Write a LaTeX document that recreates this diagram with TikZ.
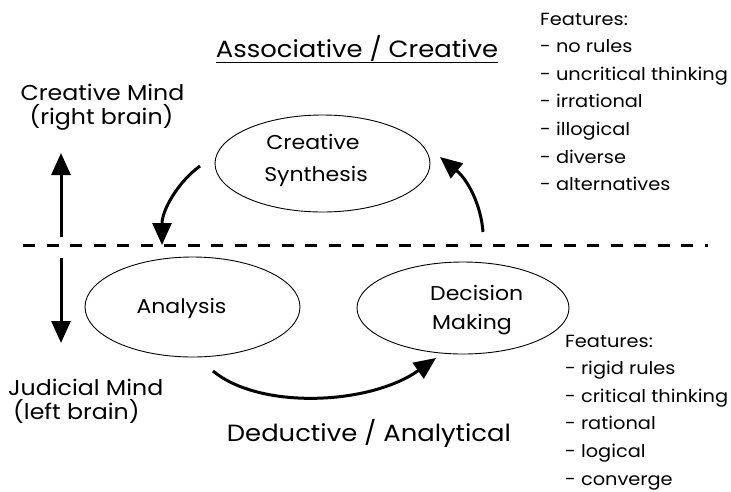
\documentclass[tikz,border=0pt]{standalone}
\usepackage{fontspec}
\setmainfont{Poppins}[FakeStretch=1.1]
\usetikzlibrary{arrows.meta,shapes.geometric}
\begin{document}
\begin{tikzpicture}[x=1pt,y=-1pt,
  oval/.style={ellipse, draw, line width=0.9pt, inner sep=0pt},
  arr/.style={line width=3pt, -{Triangle[length=22pt,width=19pt]}},
  intext/.style={inner sep=0pt, anchor=base, font=\fontsize{20}{24}\selectfont},
  lbl/.style={inner sep=0pt, anchor=base, font=\fontsize{21.5}{25}\selectfont},
  ttl/.style={inner sep=0pt, anchor=base, font=\fontsize{23.5}{27}\selectfont},
  feat/.style={inner sep=0pt, anchor=base west, font=\fontsize{17.6}{21}\selectfont}]
\useasboundingbox (0,0) rectangle (731,491);

% ellipses
\node[oval, minimum width=215pt, minimum height=97pt] (cs) at (322.5,163.5) {};
\node[oval, minimum width=215pt, minimum height=100pt] (an) at (192.5,307) {};
\node[oval, minimum width=212pt, minimum height=92pt] (dm) at (463,308) {};

% ellipse texts
\node[intext] (cst1) at (313,149) {Creative};
\node[intext] (cst2) at (316,181) {Synthesis};
\node[intext] (ant) at (181.5,313) {Analysis};
\node[intext, anchor=base west] (dmt1) at (430,300) {Decision};
\node[intext, anchor=base west] (dmt2) at (432,329) {Making};

% titles
\node[ttl] (top) at (357,57) {\underline{Associative / Creative}};
\node[ttl] (bot) at (369,441) {Deductive / Analytical};

% side labels
\node[lbl] (cm1) at (102.5,100) {Creative Mind};
\node[lbl] (cm2) at (101.5,124) {(right brain)};
\node[lbl, anchor=base west] (jm1) at (8,395) {Judicial Mind};
\node[lbl, anchor=base west] (jm2) at (13,419) {(left brain)};

% feature lists
\foreach \t [count=\i] in {Features:, - no rules, - uncritical thinking, - irrational, - illogical, - diverse, - alternatives}
  \node[feat] (fa\i) at (540,{25+27.6*(\i-1)}) {\t};
\foreach \t [count=\i] in {Features:, - rigid rules, - critical thinking, - rational, - logical, - converge}
  \node[feat] (fb\i) at (565,{347+27.6*(\i-1)}) {\t};

% dashed divider
\coordinate (dl) at (23,245);
\coordinate (dr) at (708,245);
\draw[line width=3pt, dash pattern=on 12pt off 11.5pt] (dl) -- (dr);

% vertical arrows
\coordinate (vu0) at (61,237);
\coordinate (vu1) at (61,153);
\coordinate (vd0) at (61,258);
\coordinate (vd1) at (61,343);
\draw[arr] (vu0) -- (vu1);
\draw[arr] (vd0) -- (vd1);

% cycle arrows
\coordinate (a1s) at (200,166);
\coordinate (a1e) at (162,245);
\draw[arr] (a1s) .. controls (178,182) and (162,210) .. (a1e);

\coordinate (a2s) at (483,232);
\coordinate (a2e) at (440,157);
\draw[arr] (a2s) .. controls (481,205) and (468,180) .. (a2e);

\coordinate (a3s) at (213,371);
\coordinate (a3e) at (436,358);
\draw[arr] (a3s) .. controls (260,410) and (370,405) .. (a3e);
\end{tikzpicture}
\end{document}
